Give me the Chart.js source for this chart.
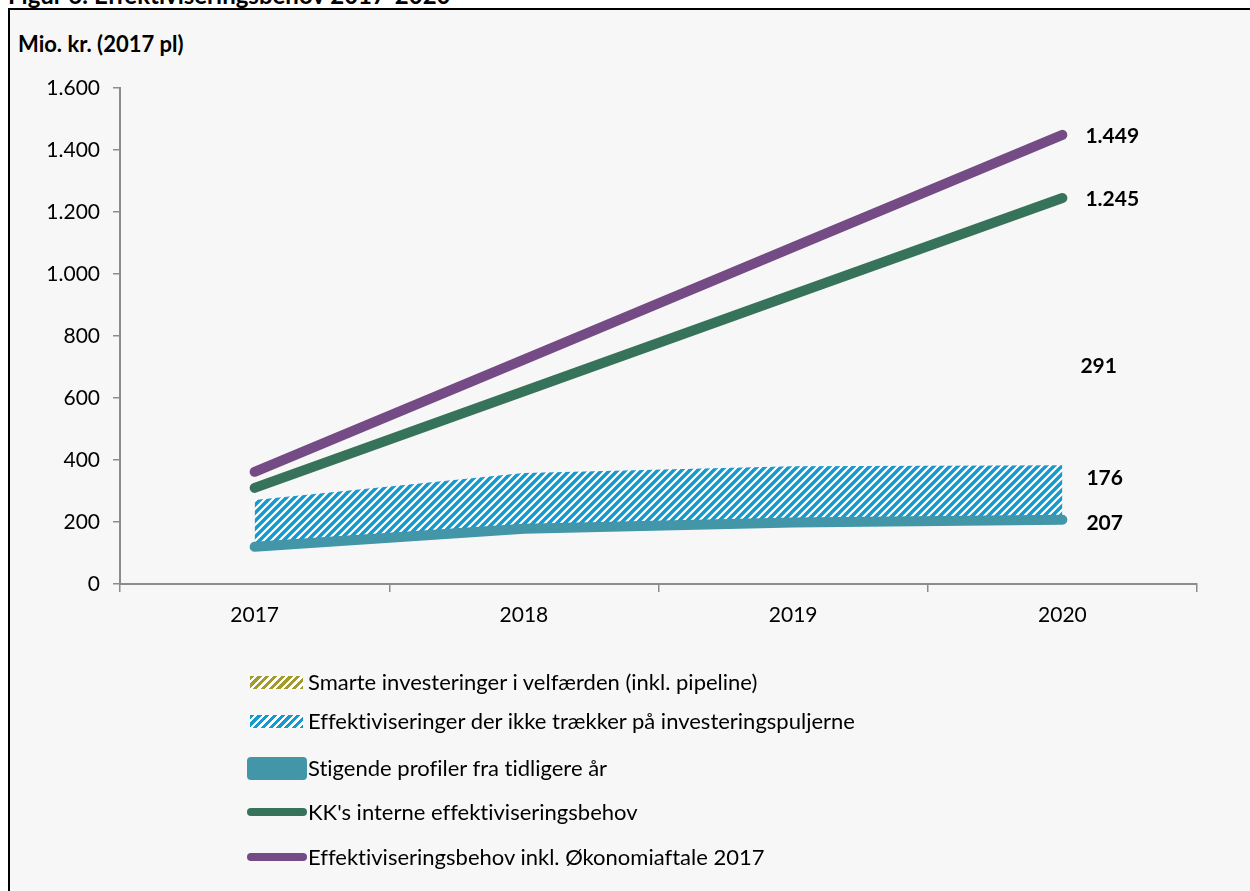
<!DOCTYPE html>
<html>
<head>
<meta charset="utf-8">
<script src="https://cdn.jsdelivr.net/npm/chart.js@4.4.1/dist/chart.umd.min.js"></script>
<style>
  html, body { margin:0; padding:0; background:#ffffff; width:1250px; height:891px; overflow:hidden; font-family: Lato, "Open Sans", sans-serif; font-variant-ligatures: none; }
  #frame { position:absolute; left:8px; top:8px; width:1260px; height:900px; background:#f7f7f7; border-left:2px solid #000; border-top:2px solid #000; }
  #fig { position:absolute; left:8px; top:-20px; font-weight:bold; font-size:24px; color:#000; white-space:nowrap; }
  #unit { position:absolute; left:18px; top:30px; font-weight:bold; font-size:22px; color:#000; white-space:nowrap; }
  #c { position:absolute; left:0; top:0; }
  #legend { position:absolute; left:246px; top:0; }
  .item { position:absolute; left:0; display:flex; align-items:center; white-space:nowrap; font-size:22px; color:#000; height:30px; }
  .sw { width:61px; display:flex; justify-content:center; align-items:center; margin-right:1px; }
</style>
</head>
<body>
<div id="frame"></div>
<div id="fig">Figur 6: Effektiviseringsbehov 2017-2020</div>
<div id="unit">Mio. kr. (2017 pl)</div>
<canvas id="c" width="1250" height="891"></canvas>
<div id="legend"></div>
<script>
// ---- data ----
const years = ['2017', '2018', '2019', '2020'];
const smarteInvesteringer = [null, null, null, 291];
const effektiviseringer = [151, 180, 182, 176];
const stigendeProfiler = [120, 178, 198, 207];
const kkInterne = [310, 622, 934, 1245];
const inklOkonomiaftale = [362, 724, 1087, 1449];
const yTicks = [0, 200, 400, 600, 800, 1000, 1200, 1400, 1600];

const seriesNames = {
  smarte: 'Smarte investeringer i velfærden (inkl. pipeline)',
  eff: 'Effektiviseringer der ikke trækker på investeringspuljerne',
  stig: 'Stigende profiler fra tidligere år',
  kk: "KK's interne effektiviseringsbehov",
  okon: 'Effektiviseringsbehov inkl. Økonomiaftale 2017'
};

const colors = {
  smarte: '#a39c2c',
  eff: '#1699cc',
  stig: '#4296a8',
  kk: '#37735b',
  okon: '#744b84'
};

const FONT = 'Lato, "Open Sans", sans-serif';

function fmt(v) {
  return String(v).replace(/\B(?=(\d{3})+(?!\d))/g, '.');
}

function hatch(color) {
  const s = 8;
  const c = document.createElement('canvas');
  c.width = s; c.height = s;
  const g = c.getContext('2d');
  g.fillStyle = '#ffffff';
  g.fillRect(0, 0, s, s);
  g.strokeStyle = color;
  g.lineWidth = 3.4;
  g.beginPath();
  g.moveTo(-1, s + 1); g.lineTo(s + 1, -1);
  g.moveTo(-2, 2); g.lineTo(2, -2);
  g.moveTo(s - 2, s + 2); g.lineTo(s + 2, s - 2);
  g.stroke();
  return document.getElementById('c').getContext('2d').createPattern(c, 'repeat');
}

const endLabels = {
  id: 'endLabels',
  afterDatasetsDraw(chart) {
    const ctx = chart.ctx;
    ctx.save();
    ctx.font = 'bold 21px ' + FONT;
    ctx.fillStyle = '#000';
    ctx.textAlign = 'left';
    ctx.textBaseline = 'middle';
    chart.data.datasets.forEach((ds, i) => {
      if (!ds.endLabel) return;
      const meta = chart.getDatasetMeta(i);
      const last = ds.data.length - 1;
      const pt = meta.data[last];
      if (!pt || ds.data[last] == null) return;
      ctx.fillText(fmt(ds.data[last]), pt.x + ds.endLabel.dx, pt.y + ds.endLabel.dy);
    });
    ctx.restore();
  }
};

const lineBase = {
  pointRadius: 0, pointHoverRadius: 0, tension: 0,
  borderCapStyle: 'round', borderJoinStyle: 'round', borderWidth: 10
};

const datasets = [
  Object.assign({}, lineBase, { label: seriesNames.okon, data: inklOkonomiaftale, borderColor: colors.okon, fill: false, stack: 'okon', endLabel: { dx: 23, dy: 1 } }),
  Object.assign({}, lineBase, { label: seriesNames.kk, data: kkInterne, borderColor: colors.kk, fill: false, stack: 'kk', endLabel: { dx: 23, dy: 1 } }),
  Object.assign({}, lineBase, { label: seriesNames.stig, data: stigendeProfiler, borderColor: colors.stig, fill: false, stack: 'base', endLabel: { dx: 24, dy: 3 } }),
  { label: seriesNames.eff, data: effektiviseringer, stack: 'base', borderWidth: 0, pointRadius: 0, tension: 0,
    borderColor: 'rgba(0,0,0,0)', backgroundColor: hatch(colors.eff), fill: '-1', endLabel: { dx: 24, dy: 13 } },
  { label: seriesNames.smarte, data: smarteInvesteringer, stack: 'base', borderWidth: 0, pointRadius: 0, tension: 0,
    borderColor: 'rgba(0,0,0,0)', backgroundColor: hatch(colors.smarte), fill: false, endLabel: { dx: 18, dy: -9 } }
];

new Chart(document.getElementById('c'), {
  type: 'line',
  data: { labels: years, datasets },
  options: {
    responsive: false,
    animation: false,
    devicePixelRatio: 1,
    layout: { padding: { top: 88, right: 53, left: 0, bottom: 0 } },
    plugins: { legend: { display: false }, tooltip: { enabled: false } },
    scales: {
      x: {
        offset: true,
        grid: { offset: true, drawOnChartArea: false, drawTicks: true, tickLength: 8, color: '#8c8c8c', lineWidth: 1.5 },
        border: { color: '#8c8c8c', width: 2 },
        ticks: { color: '#000', font: { family: FONT, size: 21 }, padding: 11, maxRotation: 0 },
        afterFit(s) { s.height = 307; }
      },
      y: {
        stacked: true,
        min: 0, max: 1600,
        afterBuildTicks(s) { s.ticks = yTicks.map(v => ({ value: v })); },
        grid: { drawOnChartArea: false, drawTicks: true, tickLength: 7, color: '#8c8c8c', lineWidth: 1.5 },
        border: { color: '#8c8c8c', width: 2 },
        ticks: { color: '#000', font: { family: FONT, size: 21 }, padding: 13, callback: v => fmt(v) },
        afterFit(s) { s.width = 120; }
      }
    }
  },
  plugins: [endLabels]
});

// ---- legend (HTML) ----
const legendRows = [
  { key: 'smarte', kind: 'hatch', top: 666 },
  { key: 'eff', kind: 'hatch', top: 705 },
  { key: 'stig', kind: 'box', top: 752 },
  { key: 'kk', kind: 'line', top: 796 },
  { key: 'okon', kind: 'line', top: 841 }
];
const lg = document.getElementById('legend');
legendRows.forEach(r => {
  const item = document.createElement('div');
  item.className = 'item';
  item.style.top = r.top + 'px';
  const sw = document.createElement('div');
  sw.className = 'sw';
  const m = document.createElement('div');
  const col = colors[r.key];
  if (r.kind === 'hatch') {
    m.style.cssText = 'width:53px;height:13px;margin-top:2px;background:repeating-linear-gradient(135deg,' + col + ' 0 3px,#fff 3px 5.5px);';
  } else if (r.kind === 'box') {
    m.style.cssText = 'width:60px;height:23px;border-radius:4px;margin-top:2px;background:' + col + ';';
  } else {
    m.style.cssText = 'width:60px;height:8px;border-radius:4px;margin-top:2px;background:' + col + ';';
  }
  sw.appendChild(m);
  item.appendChild(sw);
  const t = document.createElement('span');
  t.textContent = seriesNames[r.key];
  item.appendChild(t);
  lg.appendChild(item);
});
</script>
</body>
</html>
